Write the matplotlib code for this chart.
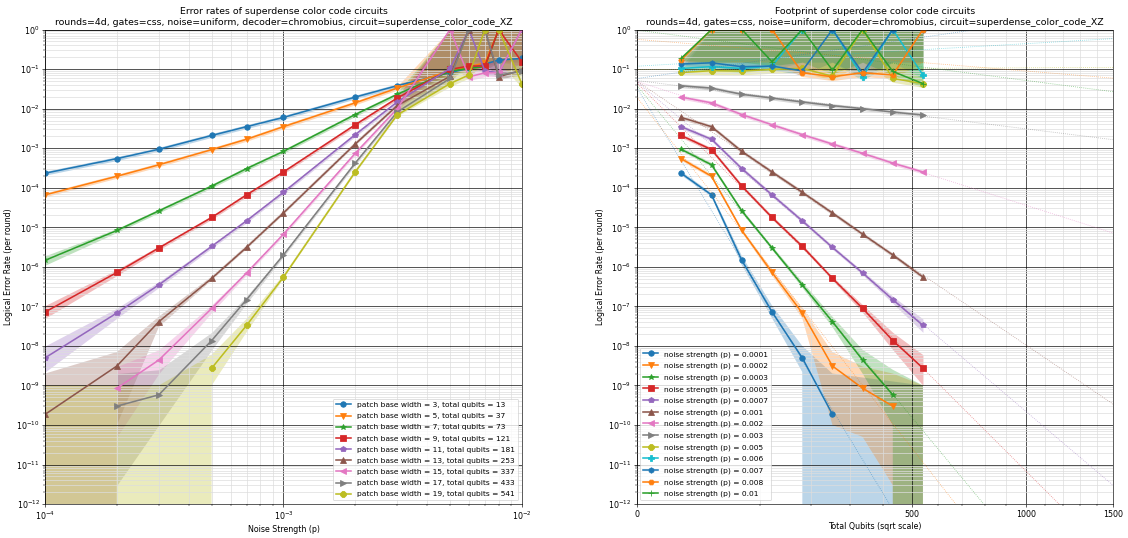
import numpy as np
import matplotlib.pyplot as plt

nan = np.nan

p_values = [0.0001, 0.0002, 0.0003, 0.0005, 0.0007, 0.001, 0.002, 0.003,
            0.005, 0.006, 0.007, 0.008, 0.01]
widths = [3, 5, 7, 9, 11, 13, 15, 17, 19]
total_qubits = [13, 37, 73, 121, 181, 253, 337, 433, 541]

# logical error rate per round, one row per patch width, one column per p
# nan = not sampled, 0 = sampled but no errors seen
rates = np.array([
    [2.33e-4, 5.45e-4, 9.4e-4, 2.1e-3, 3.5e-3, 6.0e-3, 1.96e-2, 3.8e-2, 0.082, 0.104, 0.134, 0.169, 0.186],
    [6.6e-5, 1.95e-4, 3.8e-4, 9.2e-4, 1.68e-3, 3.5e-3, 1.4e-2, 3.3e-2, 0.091, 0.115, 0.144, 1.0, 1.0],
    [1.46e-6, 8.3e-6, 2.6e-5, 1.1e-4, 3.05e-4, 8.3e-4, 7.1e-3, 2.3e-2, 0.089, 0.104, 0.115, 1.0, 1.0],
    [7.2e-8, 7.2e-7, 3.0e-6, 1.77e-5, 6.6e-5, 2.5e-4, 3.9e-3, 1.85e-2, 0.098, 0.12, 0.119, 1.0, 0.153],
    [5.0e-9, 6.8e-8, 3.5e-7, 3.3e-6, 1.46e-5, 7.7e-5, 2.2e-3, 1.47e-2, 0.104, 1.0, 0.09, 0.081, 1.0],
    [1.86e-10, 3.1e-9, 4.1e-8, 5.1e-7, 3.1e-6, 2.3e-5, 1.27e-3, 1.19e-2, 0.066, 1.0, 1.0, 0.064, 0.094],
    [nan, 8.5e-10, 4.4e-9, 8.9e-8, 7.0e-7, 6.7e-6, 7.4e-4, 1.0e-2, 1.0, 0.064, 0.08, 0.081, 1.0],
    [nan, 3.0e-10, 5.8e-10, 1.37e-8, 1.48e-7, 2.0e-6, 4.2e-4, 8.2e-3, 0.058, 1.0, 1.0, 0.071, 0.087],
    [0, 0, 0, 2.74e-9, 3.3e-8, 5.5e-7, 2.5e-4, 6.9e-3, 0.043, 0.071, 1.0, 1.0, 0.043],
])

# likelihood bands around each rate (nan = tight band)
rates_lo = np.full(rates.shape, nan)
rates_hi = np.full(rates.shape, nan)
band_points = {
    # (width index, p index): (low, high)
    (2, 0): (1.1e-6, 1.9e-6),
    (3, 0): (5.0e-8, 1.05e-7),
    (3, 1): (6.0e-7, 8.5e-7),
    (4, 0): (2.2e-9, 1.0e-8),
    (4, 1): (5.0e-8, 9.0e-8),
    (4, 2): (3.0e-7, 4.2e-7),
    (5, 0): (0, 2.0e-9),
    (5, 1): (1.0e-10, 7.0e-9),
    (5, 2): (3.0e-8, 5.5e-8),
    (6, 1): (5.0e-11, 3.0e-9),
    (6, 2): (2.0e-9, 8.0e-9),
    (6, 3): (7.0e-8, 1.1e-7),
    (7, 1): (3.0e-12, 2.0e-9),
    (7, 2): (1.0e-10, 2.5e-9),
    (7, 3): (8.0e-9, 2.2e-8),
    (7, 4): (1.2e-7, 1.8e-7),
    (8, 0): (0, 1.0e-9),
    (8, 1): (0, 1.0e-9),
    (8, 2): (0, 1.0e-9),
    (8, 3): (1.0e-9, 6.0e-9),
    (8, 4): (2.2e-8, 4.8e-8),
}
for (i, j), (lo, hi) in band_points.items():
    rates_lo[i, j] = lo
    rates_hi[i, j] = hi
# the high-noise samples only bound the rate from below
for i in range(1, len(widths)):
    for j in range(8, len(p_values)):
        rates_lo[i, j] = 0.15 if rates[i, j] >= 1 else 0.8 * rates[i, j]
        rates_hi[i, j] = 1.0

markers = "ov*sp^<>8PhH+"
p_arr = np.array(p_values)
q_arr = np.array(total_qubits, dtype=float)


def band(i, j):
    r = rates[i, j]
    lo = rates_lo[i, j] if not np.isnan(rates_lo[i, j]) else r / 1.12
    hi = rates_hi[i, j] if not np.isnan(rates_hi[i, j]) else r * 1.12
    return lo, hi


def style_log_axis(ax):
    ax.set_yscale('log')
    ax.set_ylim(1e-12, 1)
    decades = np.arange(-12, 1)
    ax.yaxis.set_major_locator(plt.FixedLocator(10.0 ** decades))
    ax.yaxis.set_minor_locator(plt.FixedLocator(
        [m * 10.0 ** e for e in decades[:-1] for m in range(2, 10)]))
    ax.grid(which='major', color='#000000', alpha=0.7, linewidth=1.2)
    ax.grid(which='minor', color='#dddddd', linewidth=0.9)
    ax.set_ylabel('Logical Error Rate (per round)')


fig, (ax1, ax2) = plt.subplots(1, 2, figsize=(20, 9.54), dpi=56.4)
fig.subplots_adjust(left=0.04, right=0.987, bottom=0.063, top=0.945, wspace=0.241)

subtitle = 'rounds=4d, gates=css, noise=uniform, decoder=chromobius, circuit=superdense_color_code_XZ'

# error rate against noise strength, one curve per patch width
for i, w in enumerate(widths):
    cols = [j for j in range(len(p_values)) if not np.isnan(rates[i, j])]
    xs = p_arr[cols]
    ys = rates[i, cols]
    lo_hi = np.array([band(i, j) for j in cols])
    ax1.fill_between(xs, lo_hi[:, 0], lo_hi[:, 1], color=f'C{i}', alpha=0.3,
                     linewidth=0, zorder=-100)
    shown = ys > 0
    ax1.plot(xs[shown], ys[shown], marker=markers[i], color=f'C{i}', linewidth=2,
             markersize=7, label=f'patch base width = {w}, total qubits = {total_qubits[i]}')
ax1.set_xscale('log')
ax1.set_xlim(1e-4, 1e-2)
style_log_axis(ax1)
ax1.set_xlabel('Noise Strength (p)')
ax1.set_title('Error rates of superdense color code circuits\n' + subtitle)
ax1.legend(loc='lower right', fontsize=9.6, labelspacing=0.65)

# error rate against footprint, one curve per noise strength
fit_q = np.linspace(0, 1500, 300)
for j, p in enumerate(p_values):
    rows = [i for i in range(len(widths)) if not np.isnan(rates[i, j])]
    xs = q_arr[rows]
    ys = rates[rows, j]
    lo_hi = np.array([band(i, j) for i in rows])
    color = f'C{j % 10}'
    ax2.fill_between(xs, lo_hi[:, 0], lo_hi[:, 1], color=color, alpha=0.3,
                     linewidth=0, zorder=-100)
    shown = ys > 0
    ax2.plot(xs[shown], ys[shown], marker=markers[j], color=color, linewidth=2,
             markersize=7, label=f'noise strength (p) = {p}')
    # straight-line fit of log rate against sqrt(qubits)
    slope, intercept = np.polyfit(np.sqrt(xs[shown]), np.log10(ys[shown]), 1)
    ax2.plot(fit_q, 10 ** (intercept + slope * np.sqrt(fit_q)), linestyle=':',
             color=color, linewidth=1.0, alpha=0.6)

ax2.set_xscale('function', functions=(lambda x: np.sqrt(np.maximum(x, 0)), np.square))
ax2.set_xlim(0, 1500)
ax2.set_xticks([0, 500, 1000, 1500])
ax2.set_xticks(np.arange(100, 1500, 100), minor=True)
style_log_axis(ax2)
ax2.set_xlabel('Total Qubits (sqrt scale)')
ax2.set_title('Footprint of superdense color code circuits\n' + subtitle)
ax2.legend(loc='lower left', fontsize=9.6, labelspacing=0.65)

fig.savefig('out.png', dpi=56.4)
